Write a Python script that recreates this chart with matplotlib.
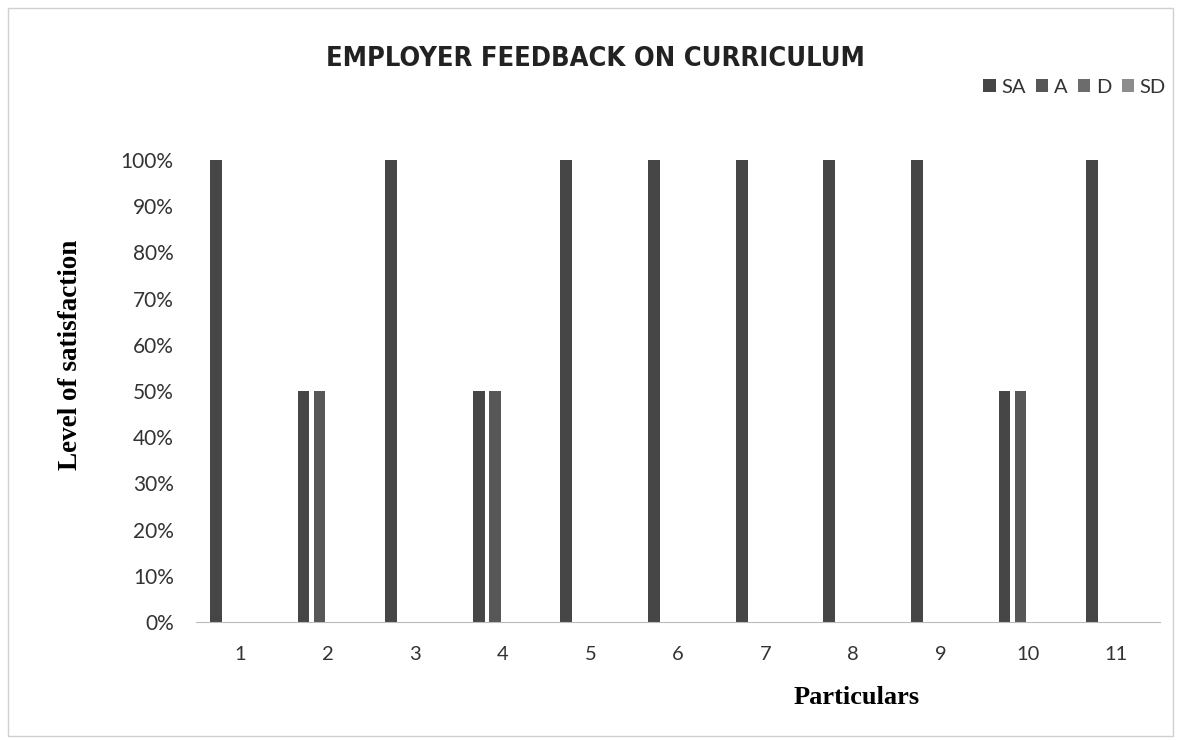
import matplotlib
matplotlib.use("Agg")
import matplotlib.pyplot as plt
import numpy as np
from matplotlib.patches import Rectangle

# data (fractions of responses)
categories = ["1", "2", "3", "4", "5", "6", "7", "8", "9", "10", "11"]
series_names = ["SA", "A", "D", "SD"]
sa = [1.0, 0.5, 1.0, 0.5, 1.0, 1.0, 1.0, 1.0, 1.0, 0.5, 1.0]
a = [0.0, 0.5, 0.0, 0.5, 0.0, 0.0, 0.0, 0.0, 0.0, 0.5, 0.0]
d = [0.0, 0.0, 0.0, 0.0, 0.0, 0.0, 0.0, 0.0, 0.0, 0.0, 0.0]
sd = [0.0, 0.0, 0.0, 0.0, 0.0, 0.0, 0.0, 0.0, 0.0, 0.0, 0.0]
yticks = [0, 0.1, 0.2, 0.3, 0.4, 0.5, 0.6, 0.7, 0.8, 0.9, 1.0]

colors = ["#464646", "#575757", "#6c6c6c", "#8c8c8c"]
sans = ["Lato", "DejaVu Sans"]

fig = plt.figure(figsize=(11.77, 7.40), dpi=100)
fig.patches.append(Rectangle((0.007, 0.005), 0.99, 0.984, transform=fig.transFigure,
                             fill=False, edgecolor="#d0d0d0", linewidth=1))
ax = fig.add_axes([0.1665, 0.1595, 0.819, 0.6243])

x = np.arange(1, len(categories) + 1)
step = 0.182
offsets = [-1.5 * step, -0.5 * step, 0.5 * step, 1.5 * step]
for vals, off, c, name in zip([sa, a, d, sd], offsets, colors, series_names):
    ax.bar(x + off, vals, width=0.135, color=c, label=name, linewidth=0)

ax.set_xlim(0.5, 11.5)
ax.set_ylim(0, 1.0)
ax.set_xticks(x)
ax.set_xticklabels(categories, fontsize=14.5, family=sans, color="#333333")
ax.set_yticks(yticks)
ax.set_yticklabels([f"{int(round(v * 100))}%" for v in yticks], fontsize=15,
                   family=sans, color="#333333")
ax.tick_params(axis="both", length=0)
ax.tick_params(axis="x", pad=17)
ax.tick_params(axis="y", pad=16)
for s in ["top", "right", "left"]:
    ax.spines[s].set_visible(False)
ax.spines["bottom"].set_color("#bbbbbb")

fig.text(0.0595, 0.52, "Level of satisfaction", rotation=90, ha="center", va="center",
         fontsize=19.5, fontweight="bold", family="Liberation Serif")
fig.text(0.728, 0.057, "Particulars", ha="center", va="center",
         fontsize=19, fontweight="bold", family="Liberation Serif")
fig.text(0.506, 0.92, "EMPLOYER FEEDBACK ON CURRICULUM", ha="center", va="center",
         fontsize=19.5, fontweight="bold", family="DejaVu Sans", fontstretch="condensed",
         color="#222222")

leg = fig.legend(loc="center right", bbox_to_anchor=(1.006, 0.882), ncol=4, frameon=False,
                 handlelength=0.6, handleheight=0.6, handletextpad=0.3, columnspacing=0.5,
                 prop={"family": sans, "size": 14.5})
for t in leg.get_texts():
    t.set_color("#333333")

fig.savefig("out.png", dpi=100, facecolor="white")
